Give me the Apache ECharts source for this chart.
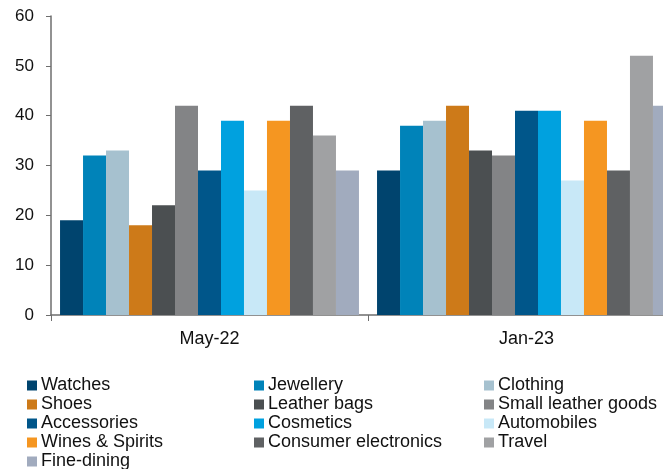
<!DOCTYPE html>
<html>
<head>
<meta charset="utf-8">
<script src="https://cdn.jsdelivr.net/npm/echarts@6/dist/echarts.min.js"></script>
<style>
  html, body { margin: 0; padding: 0; background: #fff; overflow: hidden; }
  /* the plot is wider than the window: the last period runs past the right edge */
  #chart { width: 685px; height: 469px; }
</style>
</head>
<body>
<div id="chart"></div>
<script>
// Survey periods on the x axis
const periods = ['May-22', 'Jan-23'];

// Spending categories, one bar each per period
const categories = [
  'Watches', 'Jewellery', 'Clothing', 'Shoes', 'Leather bags',
  'Small leather goods', 'Accessories', 'Cosmetics', 'Automobiles',
  'Wines & Spirits', 'Consumer electronics', 'Travel', 'Fine-dining'
];

// Values for May-22, in category order
const may22 = [19, 32, 33, 18, 22, 42, 29, 39, 25, 39, 42, 36, 29];
// Values for Jan-23, in category order
const jan23 = [29, 38, 39, 42, 33, 32, 41, 41, 27, 39, 29, 52, 42];

// Bar colours, in category order
const colors = [
  '#00446E', '#0083B9', '#A6C1CF', '#CD7A19', '#4B4F51',
  '#838486', '#00568A', '#00A1DF', '#C8E8F7',
  '#F59621', '#5F6163', '#A0A1A3', '#A1ABBE'
];

// Y axis ticks
const yTicks = { min: 0, max: 60, step: 10 };

// Legend layout: three columns
const legendColumns = [
  ['Watches', 'Shoes', 'Accessories', 'Wines & Spirits', 'Fine-dining'],
  ['Jewellery', 'Leather bags', 'Cosmetics', 'Consumer electronics'],
  ['Clothing', 'Small leather goods', 'Automobiles', 'Travel']
];
const legendLeft = [27, 254, 484];

const font = '"Liberation Sans", Arial, sans-serif';

const series = categories.map((name, i) => ({
  name: name,
  type: 'bar',
  data: [may22[i], jan23[i]],
  itemStyle: { color: colors[i] },
  barGap: '0%',
  barCategoryGap: '5.7%',
  emphasis: { disabled: true }
}));

const legends = legendColumns.map((col, k) => ({
  data: col,
  orient: 'vertical',
  left: legendLeft[k],
  top: 376,
  height: 100,
  itemWidth: 10,
  itemHeight: 10,
  itemGap: 0,
  icon: 'rect',
  padding: 0,
  selectedMode: false,
  textStyle: {
    fontFamily: font,
    fontSize: 18,
    color: '#111',
    lineHeight: 19,
    padding: [0, 0, 0, -1]
  }
}));

const chart = echarts.init(document.getElementById('chart'), null, { renderer: 'canvas' });
chart.setOption({
  animation: false,
  backgroundColor: '#fff',
  color: colors,
  grid: { left: 51, top: 16, right: 0, bottom: 154, containLabel: false },
  legend: legends,
  xAxis: {
    type: 'category',
    data: periods,
    boundaryGap: true,
    axisLine: { show: true, lineStyle: { color: '#6e6e6e', width: 1.5 } },
    axisTick: { show: true, length: 6, alignWithLabel: false, lineStyle: { color: '#6e6e6e' } },
    axisLabel: { fontFamily: font, fontSize: 18, color: '#111', margin: 15 }
  },
  yAxis: {
    type: 'value',
    min: yTicks.min,
    max: yTicks.max,
    interval: yTicks.step,
    axisLine: { show: true, lineStyle: { color: '#6e6e6e', width: 1.5 } },
    axisTick: { show: true, length: 5, lineStyle: { color: '#6e6e6e' } },
    splitLine: { show: false },
    axisLabel: { fontFamily: font, fontSize: 17, color: '#111', margin: 17 }
  },
  series: series
});
</script>
</body>
</html>
